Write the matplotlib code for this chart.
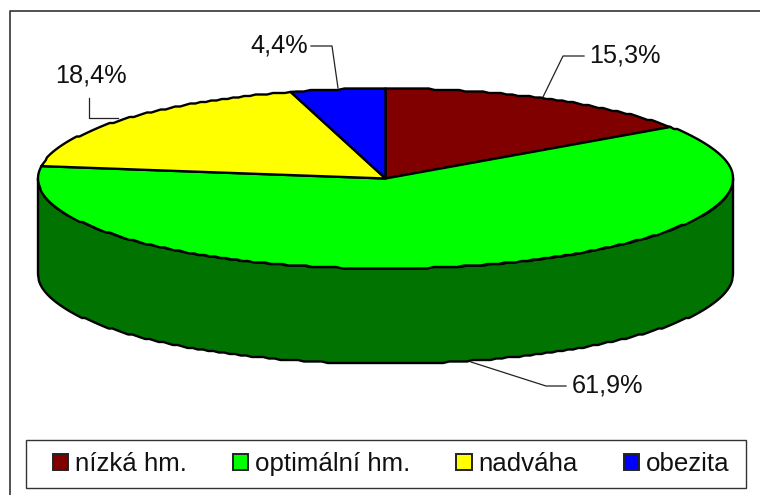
import numpy as np
import matplotlib
matplotlib.use("Agg")
import matplotlib.pyplot as plt
from matplotlib.patches import Patch, Polygon, Rectangle

plt.rcParams['font.family'] = ['Liberation Sans', 'DejaVu Sans']

categories = ["nízká hm.", "optimální hm.", "nadváha", "obezita"]
values = [15.3, 61.9, 18.4, 4.4]
value_labels = ["15,3%", "61,9%", "18,4%", "4,4%"]
colors = ["#800000", "#00ff00", "#ffff00", "#0000ff"]

# pie geometry in image pixels
CX, CY = 385.5, 178.5
RX, RY = 347.5, 90
DEPTH = 95
WALL = "#007300"
EDGE = 1.7


def ellipse_pts(a0, a1, dy=0):
    # angle is clockwise from the top, in degrees
    n = max(int(abs(a1 - a0) * 1.0), 2)
    a = np.radians(np.linspace(a0, a1, n))
    x = CX + RX * np.sin(a)
    y = CY + dy - RY * np.cos(a)
    # the original outline is stepped, so snap y to a coarse grid
    y[1:-1] = np.round(y[1:-1] / 1.5) * 1.5
    return np.column_stack([x, y])


fig = plt.figure(figsize=(7.6, 4.95), dpi=100)
ax = fig.add_axes([0, 0, 1, 1])
ax.set_xlim(0, 760)
ax.set_ylim(495, 0)
ax.axis('off')

# outer frame, the right and bottom sides fall outside the picture
ax.plot([10, 10, 760], [495, 10.5, 10.5], color="#333333", lw=1.2)

# side wall
top_arc = ellipse_pts(90, 270)
low_arc = ellipse_pts(270, 90, DEPTH)
ax.add_patch(Polygon(np.vstack([top_arc, low_arc]), closed=True, facecolor=WALL,
                     edgecolor="black", lw=EDGE, joinstyle='round'))

# top face
start = 0
for v, c in zip(values, colors):
    end = start + v / sum(values) * 360
    pts = np.vstack([[CX, CY], ellipse_pts(start, end)])
    ax.add_patch(Polygon(pts, closed=True, facecolor=c, edgecolor="black",
                         lw=EDGE, joinstyle='round'))
    start = end

# data labels with their leader lines
leaders = [([543, 563, 584], [97, 56, 56]),
           ([471, 546, 566], [362, 386, 386]),
           ([118, 89, 89], [118, 118, 98]),
           ([338, 332, 311], [88, 46, 46])]
label_pos = [(589, 55), (572, 386), (55, 75), (250, 45)]
for (lx, ly), (tx, ty), s in zip(leaders, label_pos, value_labels):
    ax.plot(lx, ly, color="#222222", lw=0.9)
    ax.text(tx, ty, s, fontsize=18.2, color="#111111", ha='left', va='center')

# legend
ax.add_patch(Rectangle((26, 440), 719.5, 48, facecolor="white", edgecolor="#333333", lw=1.0))
handles = [Patch(facecolor=c, edgecolor="#222222", lw=1.4) for c in colors]
ax.legend(handles, categories, ncol=4, frameon=False, fontsize=18.6,
          loc='center left', bbox_to_anchor=(52.5, 464), bbox_transform=ax.transData,
          borderaxespad=0, borderpad=0, handlelength=0.6, handleheight=0.6,
          handletextpad=0.27, columnspacing=1.77, labelcolor="#111111")

fig.savefig("out.png", dpi=100)
